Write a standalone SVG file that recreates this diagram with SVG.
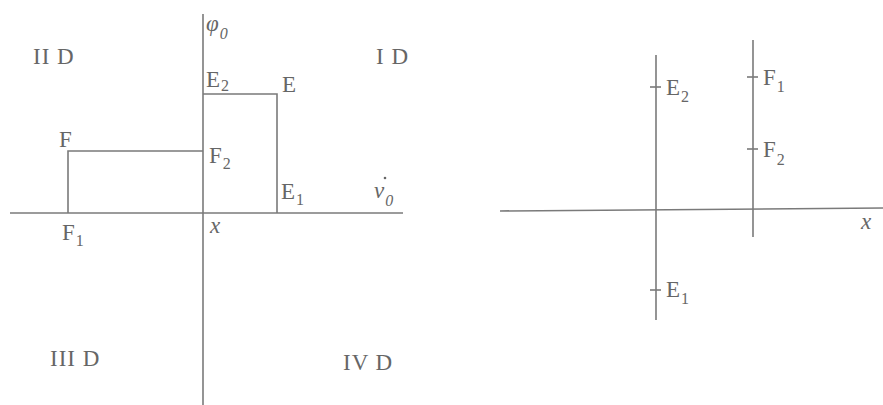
<svg xmlns="http://www.w3.org/2000/svg" width="883" height="405" viewBox="0 0 883 405">
<style>
.ln{stroke:#7a7a7a;stroke-width:1.6;fill:none}
.t{font-family:"Liberation Serif","Times New Roman",serif;font-size:23px;fill:#666666;letter-spacing:1px}
.s{font-size:16px;letter-spacing:0}
.i{font-style:italic}
</style>
<rect width="883" height="405" fill="#ffffff"/>
<g id="left-axes">
<line class="ln" x1="203" y1="14" x2="203" y2="405"/>
<line class="ln" x1="10" y1="213" x2="403" y2="213"/>
</g>
<g id="connectors">
<polyline class="ln" points="203,94 277,94 277,213"/>
<polyline class="ln" points="203,151 68,151 68,213"/>
</g>
<g id="labels-left">
<text class="t i" x="206" y="31" font-size="26">φ<tspan class="s" dy="8">0</tspan></text>
<text class="t" x="33" y="64" letter-spacing="1.5">II D</text>
<text class="t" x="376" y="64" letter-spacing="1.5">I D</text>
<text class="t" x="206" y="87">E<tspan class="s" dy="4">2</tspan></text>
<text class="t" x="282" y="92">E</text>
<text class="t" x="59" y="147">F</text>
<text class="t" x="209" y="163">F<tspan class="s" dy="6">2</tspan></text>
<text class="t" x="281" y="199">E<tspan class="s" dy="6">1</tspan></text>
<text class="t i" x="374" y="198" font-size="25">ν<tspan class="s" dy="8">0</tspan></text>
<circle cx="385" cy="178" r="1.3" fill="#666666"/>
<text class="t" x="62" y="240">F<tspan class="s" dy="6">1</tspan></text>
<text class="t i" x="210" y="233">x</text>
<text class="t" x="50" y="366" letter-spacing="1.5">III D</text>
<text class="t" x="343" y="370" letter-spacing="1.5">IV D</text>
</g>
<g id="right-axes">
<line class="ln" x1="500" y1="211" x2="883" y2="208"/>
<line class="ln" x1="656" y1="55" x2="656" y2="320"/>
<line class="ln" x1="753" y1="40" x2="753" y2="237"/>
</g>
<g id="right-ticks">
<line class="ln" x1="650" y1="87" x2="661" y2="87"/>
<line class="ln" x1="650" y1="290" x2="661" y2="290"/>
<line class="ln" x1="747" y1="77" x2="758" y2="77"/>
<line class="ln" x1="747" y1="149" x2="758" y2="149"/>
</g>
<g id="labels-right">
<text class="t" x="666" y="95">E<tspan class="s" dy="7">2</tspan></text>
<text class="t" x="763" y="85">F<tspan class="s" dy="7">1</tspan></text>
<text class="t" x="763" y="157">F<tspan class="s" dy="8">2</tspan></text>
<text class="t" x="666" y="297">E<tspan class="s" dy="7">1</tspan></text>
<text class="t i" x="861" y="229">x</text>
</g>
</svg>
